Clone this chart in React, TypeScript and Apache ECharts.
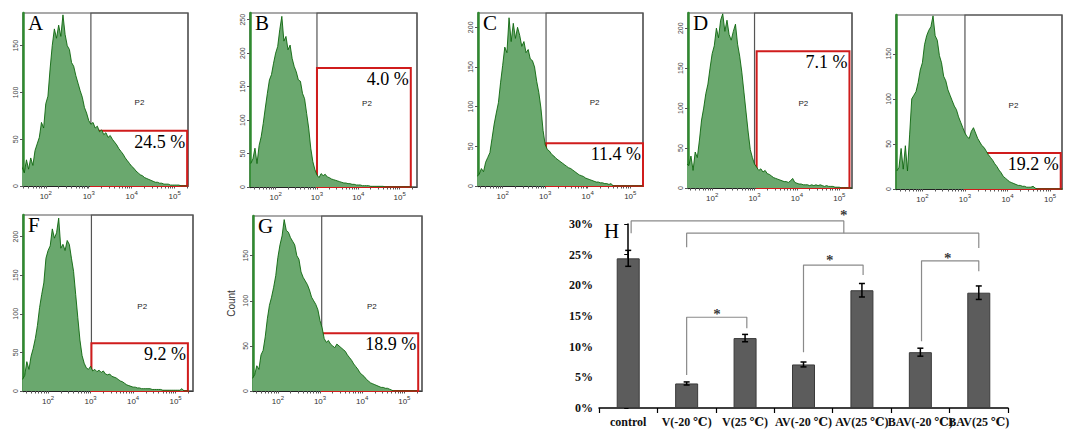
import React, { useEffect, useRef } from "react";
import * as echarts from "echarts";

// ---------- Flow cytometry histograms (x in log10 units, bins every 0.05 decade from 1.40) ----------
const LOG_START = 1.4;
const LOG_STEP = 0.05;

const countsA = [18, 20, 14, 28, 18, 30, 22, 38, 45, 52, 68, 62, 88, 96, 125, 150, 168, 158, 172, 160, 183, 162, 150, 146, 132, 128, 118, 110, 102, 95, 84, 78, 70, 66, 68, 62, 64, 58, 60, 55, 57, 52, 54, 50, 47, 44, 40, 37, 34, 30, 27, 24, 21, 19, 16, 14, 12, 11, 9, 8, 7, 6, 5, 4, 4, 3, 3, 2, 2, 2, 1, 1, 1, 1, 1, 0, 0, 0, 0];
const countsB = [35, 42, 58, 35, 62, 75, 95, 118, 140, 160, 168, 185, 200, 210, 235, 255, 218, 225, 205, 212, 192, 180, 172, 160, 158, 140, 132, 110, 88, 58, 38, 26, 18, 14, 20, 17, 19, 15, 14, 12, 11, 10, 9, 8, 7, 6, 6, 5, 5, 4, 4, 3, 3, 3, 2, 2, 2, 2, 1, 1, 1, 1, 1, 1, 1, 0, 0, 0, 0, 0, 0, 0, 0, 0, 0, 0, 0, 0, 0];
const countsC = [12, 15, 22, 18, 30, 36, 42, 60, 78, 92, 105, 130, 152, 175, 168, 212, 182, 205, 186, 200, 190, 176, 182, 168, 172, 160, 158, 150, 132, 118, 98, 70, 52, 46, 44, 40, 38, 35, 33, 31, 29, 27, 25, 23, 22, 20, 18, 16, 14, 13, 12, 10, 9, 8, 7, 6, 5, 5, 4, 4, 3, 3, 2, 3, 0, 0, 0, 0, 0, 0, 0, 0, 0, 0, 0, 0, 0, 0, 0];
const countsD = [30, 28, 40, 22, 45, 38, 60, 85, 100, 118, 130, 150, 168, 178, 200, 188, 210, 218, 196, 210, 192, 185, 196, 205, 180, 165, 145, 120, 95, 70, 48, 38, 30, 26, 22, 24, 20, 22, 18, 17, 15, 13, 12, 11, 10, 9, 8, 8, 7, 9, 12, 7, 6, 5, 5, 4, 4, 4, 3, 4, 3, 4, 3, 4, 3, 2, 3, 2, 2, 2, 1, 1, 1, 0, 0, 0, 0, 0, 0];
const countsE = [20, 24, 45, 22, 48, 20, 60, 100, 104, 108, 118, 132, 140, 160, 170, 176, 180, 192, 170, 165, 148, 140, 125, 120, 110, 104, 98, 92, 88, 80, 74, 68, 62, 58, 56, 64, 68, 62, 56, 52, 48, 46, 42, 38, 35, 32, 28, 25, 21, 18, 14, 12, 10, 8, 7, 6, 5, 4, 4, 3, 3, 2, 2, 2, 3, 1, 0, 0, 0, 0, 0, 0, 0, 0, 0, 0, 0, 0, 0];
const countsF = [15, 20, 38, 28, 45, 55, 68, 85, 108, 125, 140, 172, 182, 188, 210, 198, 205, 224, 185, 190, 182, 195, 190, 172, 155, 125, 95, 66, 46, 36, 30, 28, 32, 26, 28, 25, 27, 24, 26, 22, 21, 22, 19, 18, 17, 15, 13, 12, 10, 8, 7, 6, 5, 5, 4, 4, 3, 3, 3, 3, 3, 2, 2, 2, 2, 2, 1, 1, 1, 1, 1, 1, 1, 1, 1, 3, 0, 0, 0];
const countsG = [14, 18, 28, 24, 40, 45, 60, 80, 95, 104, 115, 128, 148, 162, 172, 190, 178, 176, 170, 166, 162, 150, 146, 132, 126, 122, 118, 112, 104, 100, 96, 90, 78, 70, 58, 54, 56, 52, 50, 48, 52, 50, 48, 46, 44, 40, 37, 34, 30, 27, 24, 20, 18, 16, 13, 11, 9, 8, 7, 6, 5, 4, 4, 3, 3, 2, 1, 0, 0, 0, 0, 0, 0, 0, 0, 0, 0, 0, 0];

const HIST_COUNTS = [countsA, countsB, countsC, countsD, countsE, countsF, countsG];
const PANEL_LETTERS = ["A", "B", "C", "D", "", "F", "G"];
const PANEL_PERCENT = ["24.5 %", "4.0 %", "11.4 %", "7.1 %", "19.2 %", "9.2 %", "18.9 %"];
const Y_MAX = [185, 260, 218, 219, 193, 228, 194];
const Y_TICK_LABELS = [
  [0, 50, 100, 150],
  [0, 50, 100, 150, 200, 250],
  [0, 50, 100, 150, 200],
  [0, 50, 100, 150, 200],
  [0, 50, 100, 150],
  [0, 50, 100, 150, 200],
  [0, 50, 100, 150],
];
const X_MIN = [1.47, 1.38, 1.42, 1.43, 1.38, 1.41, 1.41];
const X_MAX = [5.31, 5.42, 5.3, 5.3, 5.28, 5.41, 5.42];
const X_TICK_LABELS = [2, 3, 4, 5];
const GATE_X = [3.05, 3.0, 3.02, 3.0, 3.0, 3.02, 3.04];
const RED_LEFT = [3.05, 3.0, 3.02, 3.05, 3.0, 3.02, 3.04];
const RED_RIGHT = [5.29, 5.27, 5.3, 5.24, 5.25, 5.29, 5.33];
const RED_TOP = [59, 178, 54, 171, 40, 62, 64];

// ---------- Bar chart H ----------
const CATEGORIES = ["control", "V(-20 ℃)", "V(25 ℃)", "AV(-20 ℃)", "AV(25 ℃)", "BAV(-20 ℃)", "BAV(25 ℃)"];
const MEANS = [24.4, 4.0, 11.4, 7.1, 19.2, 9.1, 18.8];
const ERRORS = [1.3, 0.25, 0.6, 0.4, 1.1, 0.65, 1.1];
const Y_PERCENT_TICKS = [0, 5, 10, 15, 20, 25, 30];
// significance brackets, in (category index, %) units
const BRACKETS = [
  [[0.05, 28.5], [0.05, 30.5], [3.69, 30.5], [3.69, 28.5]],
  [[1.0, 26.2], [1.0, 28.5], [6.0, 28.5], [6.0, 26.1]],
  [[1.0, 5.4], [1.0, 14.8], [2.03, 14.8], [2.03, 13.0]],
  [[3.0, 9.1], [3.0, 23.3], [4.02, 23.3], [4.02, 21.7]],
  [[5.02, 10.9], [5.02, 24.0], [6.0, 24.0], [6.0, 22.3]],
];
const STARS = [[3.69, 31.8], [1.52, 15.7], [3.45, 24.5], [5.47, 24.8]];

// ---------- layout ----------
const HIST_GRIDS = [
  { left: 23, top: 13, width: 165, height: 173 },
  { left: 250, top: 13, width: 167, height: 174 },
  { left: 478, top: 13, width: 165, height: 173 },
  { left: 688, top: 13, width: 164, height: 175 },
  { left: 896, top: 15, width: 166, height: 174 },
  { left: 23, top: 215, width: 170, height: 176 },
  { left: 253, top: 216, width: 169, height: 175 },
];
const BAR_GRID = { left: 599, top: 224, width: 409, height: 184 };

const SERIF = '"Liberation Serif", "Times New Roman", "DejaVu Serif", serif';
const SANS = '"Liberation Sans", Arial, sans-serif';

function minorTicks(min: number, max: number) {
  const out: number[] = [];
  for (let n = 1; n <= 5; n++) {
    for (let k = 1; k <= 9; k++) {
      const v = n + Math.log10(k);
      if (v >= min && v <= max) out.push(v);
    }
  }
  return out;
}

function buildOption() {
  const grid: any[] = [];
  const xAxis: any[] = [];
  const yAxis: any[] = [];
  const series: any[] = [];
  const graphic: any[] = [];

  HIST_GRIDS.forEach((g, i) => {
    grid.push({ ...g, show: true, borderColor: "#555", borderWidth: 1.2, backgroundColor: "transparent" });
    xAxis.push({
      type: "value",
      gridIndex: i,
      min: X_MIN[i],
      max: X_MAX[i],
      axisLine: { show: true, lineStyle: { color: "#222", width: 1 } },
      axisTick: { show: true, customValues: minorTicks(X_MIN[i], X_MAX[i]), length: 2.5, lineStyle: { color: "#555" } },
      axisLabel: {
        customValues: X_TICK_LABELS,
        formatter: (v: number) => `{b|10}{s|${v}}`,
        margin: 4,
        rich: {
          b: { fontSize: 8, fontFamily: SANS, color: "#333" },
          s: { fontSize: 6, fontFamily: SANS, color: "#333", padding: [0, 0, 6, 0] },
        },
      },
      splitLine: { show: false },
    });
    yAxis.push({
      type: "value",
      gridIndex: i,
      min: 0,
      max: Y_MAX[i],
      name: i === 6 ? "Count" : "",
      nameLocation: "middle",
      nameGap: 17,
      nameRotate: 90,
      nameTextStyle: { fontFamily: SANS, fontSize: 10, color: "#333" },
      axisLine: { show: true, lineStyle: { color: "#2f8a2f", width: 2.5 } },
      axisTick: { show: true, customValues: Y_TICK_LABELS[i], length: 3, lineStyle: { color: "#555" } },
      axisLabel: { customValues: Y_TICK_LABELS[i], rotate: 90, fontSize: 7, fontFamily: SANS, color: "#444", margin: 4 },
      splitLine: { show: false },
    });
    series.push({
      type: "line",
      xAxisIndex: i,
      yAxisIndex: i,
      data: HIST_COUNTS[i].map((v, j) => [LOG_START + j * LOG_STEP, v]),
      symbol: "none",
      clip: true,
      z: 2,
      lineStyle: { color: "#0c650c", width: 0.9 },
      areaStyle: { color: "#6aa86e", opacity: 1 },
    });
    series.push({
      type: "line",
      xAxisIndex: i,
      yAxisIndex: i,
      data: [],
      z: 4,
      markArea: {
        silent: true,
        data: [
          [
            {
              xAxis: GATE_X[i],
              yAxis: 0,
              itemStyle: { color: "rgba(0,0,0,0)", borderColor: "#555", borderWidth: 1.2 },
              label: {
                show: true,
                position: "inside",
                offset: [0, 3],
                formatter: "P2",
                fontFamily: SANS,
                fontSize: 8,
                color: "#222",
                textBorderWidth: 0,
              },
            },
            { xAxis: X_MAX[i], yAxis: Y_MAX[i] },
          ],
          [
            {
              xAxis: RED_LEFT[i],
              yAxis: 0,
              itemStyle: { color: "rgba(0,0,0,0)", borderColor: "#d01c1c", borderWidth: 2 },
              label: {
                show: true,
                position: "insideTopRight",
                distance: 3,
                formatter: PANEL_PERCENT[i],
                fontFamily: SERIF,
                fontSize: 18,
                color: "#000",
                textBorderWidth: 0,
              },
            },
            { xAxis: RED_RIGHT[i], yAxis: RED_TOP[i] },
          ],
        ],
      },
    });
    if (PANEL_LETTERS[i]) {
      graphic.push({
        type: "text",
        x: g.left + 5,
        y: g.top - 1,
        style: { text: PANEL_LETTERS[i], fontFamily: SERIF, fontSize: 21, fill: "#000", verticalAlign: "top" },
        z: 10,
      });
    }
  });

  // Bar chart H
  const bi = HIST_GRIDS.length;
  grid.push({ ...BAR_GRID });
  xAxis.push({
    type: "category",
    gridIndex: bi,
    data: CATEGORIES,
    axisLine: { show: true, lineStyle: { color: "#000", width: 1.5 } },
    axisTick: { show: true, length: 5, lineStyle: { color: "#000", width: 1.2 } },
    axisLabel: {
      interval: 0,
      hideOverlap: false,
      margin: 8,
      fontFamily: SERIF,
      fontWeight: "bold",
      fontSize: 12,
      color: "#111",
    },
    splitLine: { show: false },
  });
  xAxis.push({ type: "value", gridIndex: bi, min: -0.5, max: 6.5, show: false });
  yAxis.push({
    type: "value",
    gridIndex: bi,
    min: 0,
    max: 30,
    interval: 5,
    axisLine: { show: true, lineStyle: { color: "#000", width: 1.5 } },
    axisTick: { show: true, customValues: Y_PERCENT_TICKS, length: 4, lineStyle: { color: "#000" } },
    axisLabel: {
      customValues: Y_PERCENT_TICKS,
      formatter: "{value}%",
      fontFamily: SERIF,
      fontWeight: "bold",
      fontSize: 12,
      color: "#111",
      margin: 6,
    },
    splitLine: { show: false },
  });
  series.push({
    type: "bar",
    xAxisIndex: bi,
    yAxisIndex: bi,
    data: MEANS,
    barWidth: 23,
    itemStyle: { color: "#5c5c5c", borderColor: "#3a3a3a", borderWidth: 1 },
  });
  series.push({
    type: "custom",
    xAxisIndex: bi,
    yAxisIndex: bi,
    data: MEANS.map((m, i) => [i, m - ERRORS[i], m + ERRORS[i]]),
    encode: { x: 0, y: [1, 2] },
    z: 5,
    renderItem: (params: any, api: any) => {
      const x = api.value(0);
      const lo = api.coord([x, api.value(1)]);
      const hi = api.coord([x, api.value(2)]);
      const w = 3;
      const style = { stroke: "#000", lineWidth: 1.5 };
      return {
        type: "group",
        children: [
          { type: "line", shape: { x1: lo[0], y1: lo[1], x2: hi[0], y2: hi[1] }, style },
          { type: "line", shape: { x1: lo[0] - w, y1: lo[1], x2: lo[0] + w, y2: lo[1] }, style },
          { type: "line", shape: { x1: hi[0] - w, y1: hi[1], x2: hi[0] + w, y2: hi[1] }, style },
        ],
      };
    },
  });
  BRACKETS.forEach((b) => {
    series.push({
      type: "line",
      xAxisIndex: bi + 1,
      yAxisIndex: bi,
      data: b,
      symbol: "none",
      clip: false,
      z: 3,
      lineStyle: { color: "#8a8a8a", width: 1.2 },
    });
  });
  series.push({
    type: "scatter",
    xAxisIndex: bi + 1,
    yAxisIndex: bi,
    data: STARS,
    symbolSize: 1,
    clip: false,
    itemStyle: { color: "rgba(0,0,0,0)" },
    label: {
      show: true,
      position: "inside",
      offset: [0, 2],
      formatter: "*",
      fontFamily: SERIF,
      fontWeight: "bold",
      fontSize: 15,
      color: "#000",
      textBorderWidth: 0,
    },
  });
  graphic.push({
    type: "text",
    x: BAR_GRID.left + 5,
    y: BAR_GRID.top - 4,
    style: { text: "H", fontFamily: SERIF, fontSize: 21, fill: "#000", verticalAlign: "top" },
    z: 10,
  });

  return { animation: false, backgroundColor: "#fff", grid, xAxis, yAxis, series, graphic };
}

export default function App() {
  const ref = useRef<HTMLDivElement>(null);
  useEffect(() => {
    const chart = echarts.init(ref.current!, null, { renderer: "svg" });
    chart.setOption(buildOption() as any);
    return () => chart.dispose();
  }, []);
  return (
    <div
      ref={ref}
      style={{ position: "fixed", left: 0, top: 0, width: 1068, height: 429, background: "#fff" }}
    />
  );
}
